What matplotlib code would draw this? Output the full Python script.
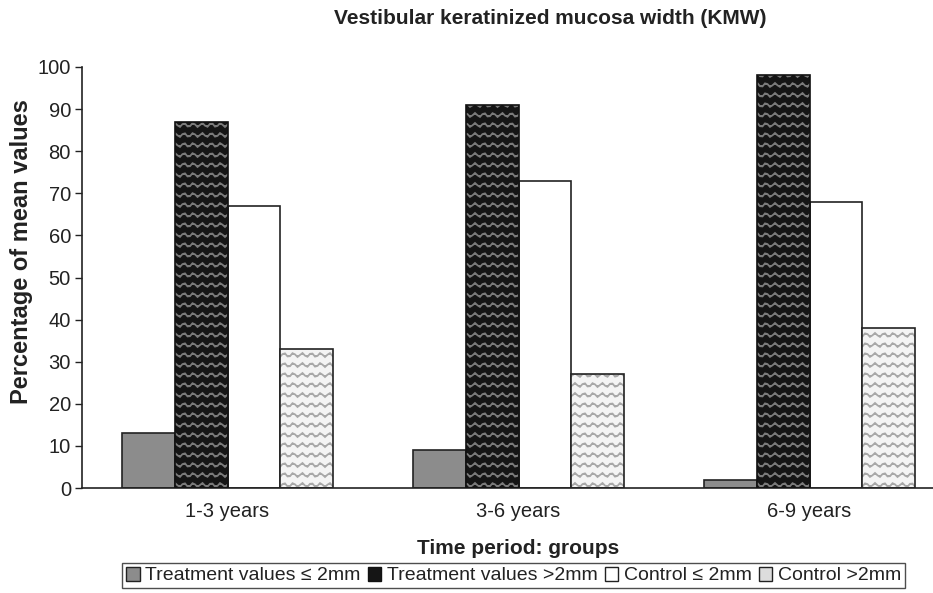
import warnings
import numpy as np
import matplotlib
matplotlib.use("Agg")
import matplotlib.pyplot as plt
import matplotlib.hatch as mhatch
from matplotlib.path import Path
from matplotlib.patches import Patch

warnings.filterwarnings("ignore")

# data
groups = ["1-3 years", "3-6 years", "6-9 years"]
treat_le2 = [13, 9, 2]
treat_gt2 = [87, 91, 98]
ctrl_le2 = [67, 73, 68]
ctrl_gt2 = [33, 27, 38]
series_labels = ["Treatment values \u2264 2mm", "Treatment values >2mm",
                 "Control \u2264 2mm", "Control >2mm"]


# wavy hatch, drawn with '~' (matplotlib has no wave pattern of its own)
class WaveHatch(mhatch.HatchPatternBase):
    def __init__(self, hatch, density):
        self.num_rows = hatch.count('~') * 5
        self.num_pts = 41
        self.num_vertices = self.num_rows * self.num_pts

    def set_vertices_and_codes(self, vertices, codes):
        x = np.linspace(0, 1, self.num_pts)
        amp = 0.2 / self.num_rows
        for i in range(self.num_rows):
            y = (i + 0.5) / self.num_rows + amp * np.sin(2 * np.pi * 11 * x)
            s = slice(i * self.num_pts, (i + 1) * self.num_pts)
            vertices[s, 0] = x
            vertices[s, 1] = y
            codes[s] = Path.LINETO
            codes[i * self.num_pts] = Path.MOVETO


mhatch._hatch_types.append(WaveHatch)

plt.rcParams['font.family'] = ['Liberation Sans', 'DejaVu Sans']
plt.rcParams['hatch.linewidth'] = 1.3

fig = plt.figure(figsize=(9.33, 5.93), dpi=100)
ax = fig.add_axes([82 / 933, 1 - 488 / 593, 1 - 82 / 933, (488 - 67) / 593])

x = np.arange(len(groups))
w = 0.181
off = np.array([-1.5, -0.5, 0.5, 1.5]) * w

ax.bar(x + off[0], treat_le2, w, color="#8c8c8c", edgecolor="#222222", lw=1.2, zorder=2)

# dark wavy bars: fill + gray waves, then black outline
ax.bar(x + off[1], treat_gt2, w, color="#151515", edgecolor="#7a7a7a", hatch="~~",
       lw=0, zorder=2)
ax.bar(x + off[1], treat_gt2, w, fill=False, edgecolor="#111111", lw=1.2, zorder=3)

ax.bar(x + off[2], ctrl_le2, w, color="white", edgecolor="#222222", lw=1.2, zorder=2)

ax.bar(x + off[3], ctrl_gt2, w, color="#f4f4f4", edgecolor="#a8a8a8", hatch="~~",
       lw=0, zorder=2)
ax.bar(x + off[3], ctrl_gt2, w, fill=False, edgecolor="#222222", lw=1.2, zorder=3)

ax.set_xlim(-0.5, -0.5 + (933 - 82) / 291)
ax.set_ylim(0, 100)
ax.set_yticks(range(0, 101, 10))
ax.set_xticks(x)
ax.set_xticklabels(groups)
ax.tick_params(axis='y', labelsize=14.5, length=5, width=1, color="#222222",
               labelcolor="#222222", pad=3)
ax.tick_params(axis='x', labelsize=14.5, length=0, labelcolor="#222222", pad=10)
for side in ["top", "right"]:
    ax.spines[side].set_visible(False)
for side in ["left", "bottom"]:
    ax.spines[side].set_linewidth(1.2)
    ax.spines[side].set_color("#222222")

fig.text(550 / 933, 1 - 18 / 593, "Vestibular keratinized mucosa width (KMW)",
         ha="center", va="center", fontsize=15, fontweight="bold", color="#222222")
fig.text(518 / 933, 1 - 549 / 593, "Time period: groups", ha="center", va="center",
         fontsize=15, fontweight="bold", color="#222222")
fig.text(22 / 933, 1 - 252 / 593, "Percentage of mean values", ha="center", va="center",
         rotation=90, fontsize=17, fontweight="bold", color="#222222")

handles = [
    Patch(facecolor="#8c8c8c", edgecolor="#222222"),
    Patch(facecolor="#151515", edgecolor="#111111"),
    Patch(facecolor="white", edgecolor="#222222"),
    Patch(facecolor="#dddddd", edgecolor="#222222"),
]
leg = fig.legend(handles, series_labels, loc="upper left",
                 bbox_to_anchor=(122 / 933, 1 - 563 / 593), ncol=4,
                 prop={"size": 14},
                 handlelength=0.7, handleheight=0.7, handletextpad=0.3,
                 columnspacing=0.35, borderpad=0.2, frameon=True, fancybox=False,
                 borderaxespad=0)
leg.get_frame().set_edgecolor("#222222")
leg.get_frame().set_linewidth(1.0)
for t in leg.get_texts():
    t.set_color("#222222")

fig.savefig("out.png", dpi=100)
